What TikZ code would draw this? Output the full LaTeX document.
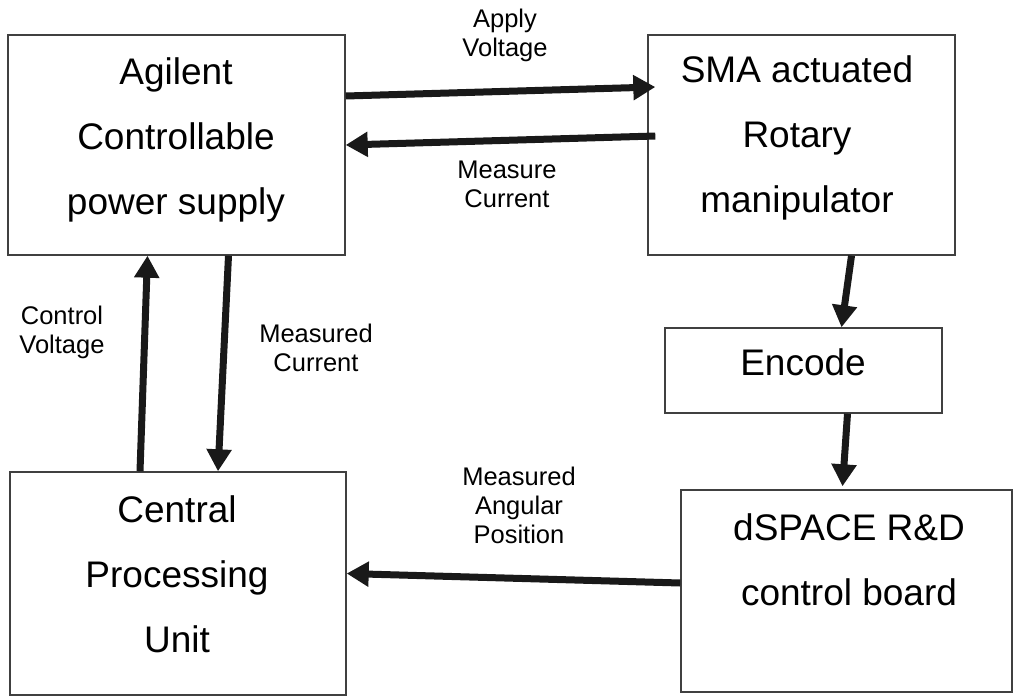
\documentclass[tikz,border=0pt]{standalone}
\usepackage{fontspec}
\setmainfont{Liberation Sans}
\usetikzlibrary{arrows.meta}
\tikzset{
  box/.style={draw=black!75, line width=1.4pt, inner sep=0pt},
  big/.style={align=center, font=\fontsize{37}{65}\selectfont, inner sep=0pt},
  small/.style={align=center, font=\fontsize{25.5}{29}\selectfont, inner sep=0pt},
  flow/.style={draw=black!90, line width=7pt, -{Triangle[length=22pt,width=24pt]}}
}
\begin{document}
\begin{tikzpicture}[x=1pt,y=-1pt]
\useasboundingbox (0,0) rectangle (1014,696);
% boxes
\node[box, minimum width=337, minimum height=220] (agi) at (176.5,145) {};
\node[box, minimum width=307, minimum height=220] (sma) at (801.5,145) {};
\node[box, minimum width=277, minimum height=85] (enc) at (803.5,370.5) {};
\node[box, minimum width=331, minimum height=202] (dsp) at (846.5,591) {};
\node[box, minimum width=336, minimum height=223] (cpu) at (178,583.5) {};
% box texts
\node[big] (tagi) at (176,140) {Agilent\\Controllable\\power supply};
\node[big] (tsma) at (797,138) {SMA actuated\\Rotary\\manipulator};
\node[big] (tenc) at (803,362) {Encode};
\node[big] (tdsp) at (849,560) {dSPACE R\&D\\control board};
\node[big] (tcpu) at (177,574) {Central\\Processing\\Unit};
% arrows
\draw[flow] ([yshift=49pt]agi.east) -- ([xshift=8pt,yshift=58pt]sma.west);
\draw[flow] ([xshift=8pt,yshift=9pt]sma.west) -- (agi.east);
\draw[flow] ([xshift=-38pt]cpu.north) -- ([xshift=-29pt]agi.south);
\draw[flow] ([xshift=52pt]agi.south) -- ([xshift=40pt]cpu.north);
\draw[flow] ([xshift=50pt]sma.south) -- ([xshift=38pt]enc.north);
\draw[flow] ([xshift=44pt]enc.south) -- ([xshift=-4pt,yshift=3pt]dsp.north);
\draw[flow] ([yshift=8pt]dsp.west) -- ([yshift=10pt]cpu.east);
% labels
\node[small] (lapply) at (505,35) {Apply\\Voltage};
\node[small] (lmeas) at (507,184) {Measure\\Current};
\node[small] (lctrl) at (62,332) {Control\\Voltage};
\node[small] (lmcur) at (316,348) {Measured\\Current};
\node[small] (lang) at (519,505) {Measured\\Angular\\Position};
\end{tikzpicture}
\end{document}
